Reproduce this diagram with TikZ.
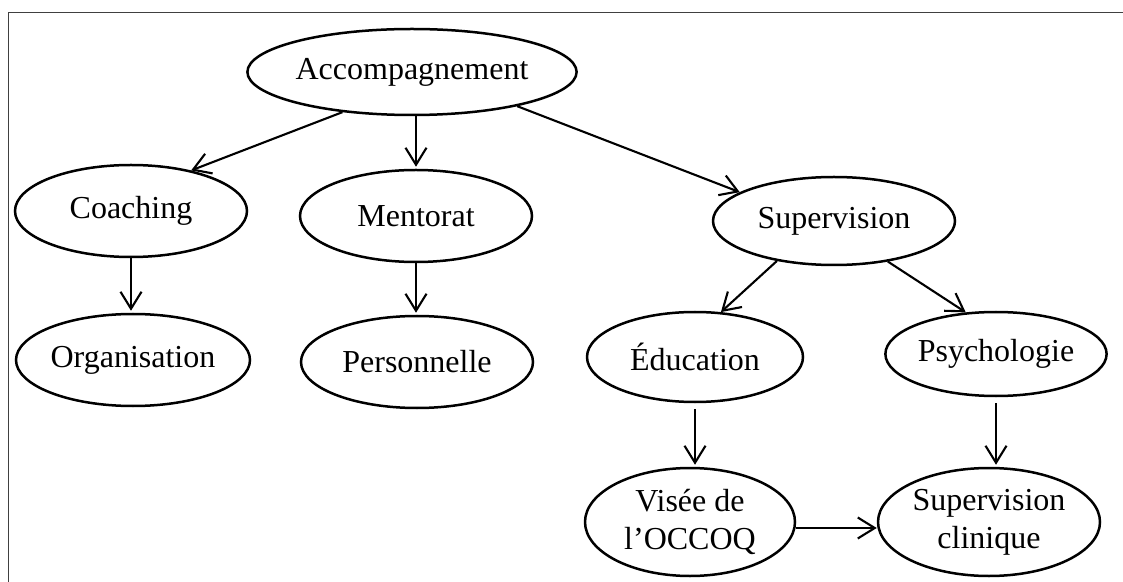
\documentclass[tikz,border=0pt]{standalone}
\usepackage{fontspec}
\setmainfont{Liberation Serif}
\usetikzlibrary{shapes.geometric,arrows.meta}
\begin{document}
\begin{tikzpicture}[x=0.5pt,y=-0.5pt,
  bubble/.style={draw, ellipse, line width=1.25pt, inner sep=0pt, align=center,
    font=\fontsize{16}{19}\selectfont},
  link/.style={line width=1.05pt, -{Straight Barb[length=8.5pt,width=10.5pt]}},
  frameline/.style={line width=0.7pt, black!75}]
\useasboundingbox (0,0) rectangle (1123,582);
% open frame: only the top and left sides fall on the page
\draw[frameline] (8.5,590) -- (8.5,12.3) -- (1130,12.3);

% concepts
\node[bubble, minimum width=155pt, minimum height=43pt] (acc)  at (412,72)  {Accompagnement};
\node[bubble, minimum width=116pt, minimum height=46pt] (coach) at (131,211) {Coaching};
\node[bubble, minimum width=116pt, minimum height=46pt] (ment) at (416,216) {Mentorat};
\node[bubble, minimum width=121pt, minimum height=44pt] (sup)  at (834,221) {Supervision};
\node[bubble, minimum width=117pt, minimum height=46pt] (org)  at (133,360) {Organisation};
\node[bubble, minimum width=116pt, minimum height=46pt] (pers) at (417,362) {Personnelle};
\node[bubble, minimum width=108pt, minimum height=45pt] (edu)  at (695,357) {Éducation};
\node[bubble, minimum width=105pt, minimum height=42pt] (psy)  at (996,354) {Psychologie};
\node[bubble, minimum width=105pt, minimum height=54pt] (vis)  at (690,522) {Visée de\\l’OCCOQ};
\node[bubble, minimum width=111pt, minimum height=54pt] (sc)   at (989,522) {Supervision\\clinique};

% links
\draw[link] (acc.210) -- (coach.34);
\draw[link] (acc.south -| ment.north) -- ([yshift=1pt]ment.north);
\draw[link] (acc.342) -- (sup.163);
\draw[link] (coach.south) -- ([yshift=1pt]coach.south |- org.north);
\draw[link] (ment.south) -- ([yshift=1pt]ment.south |- pers.north);
\draw[link] (sup.215) -- (edu.60);
\draw[link] (sup.323) -- (psy.126);
\draw[link] ([yshift=-3pt]edu.south) -- ([yshift=1pt]edu.south |- vis.north);
\draw[link] ([yshift=-3pt]psy.south) -- ([yshift=1pt]psy.south |- sc.north);
\draw[link] ([yshift=-3pt]vis.east) -- ([yshift=-3pt]vis.east -| sc.west);
\end{tikzpicture}
\end{document}
